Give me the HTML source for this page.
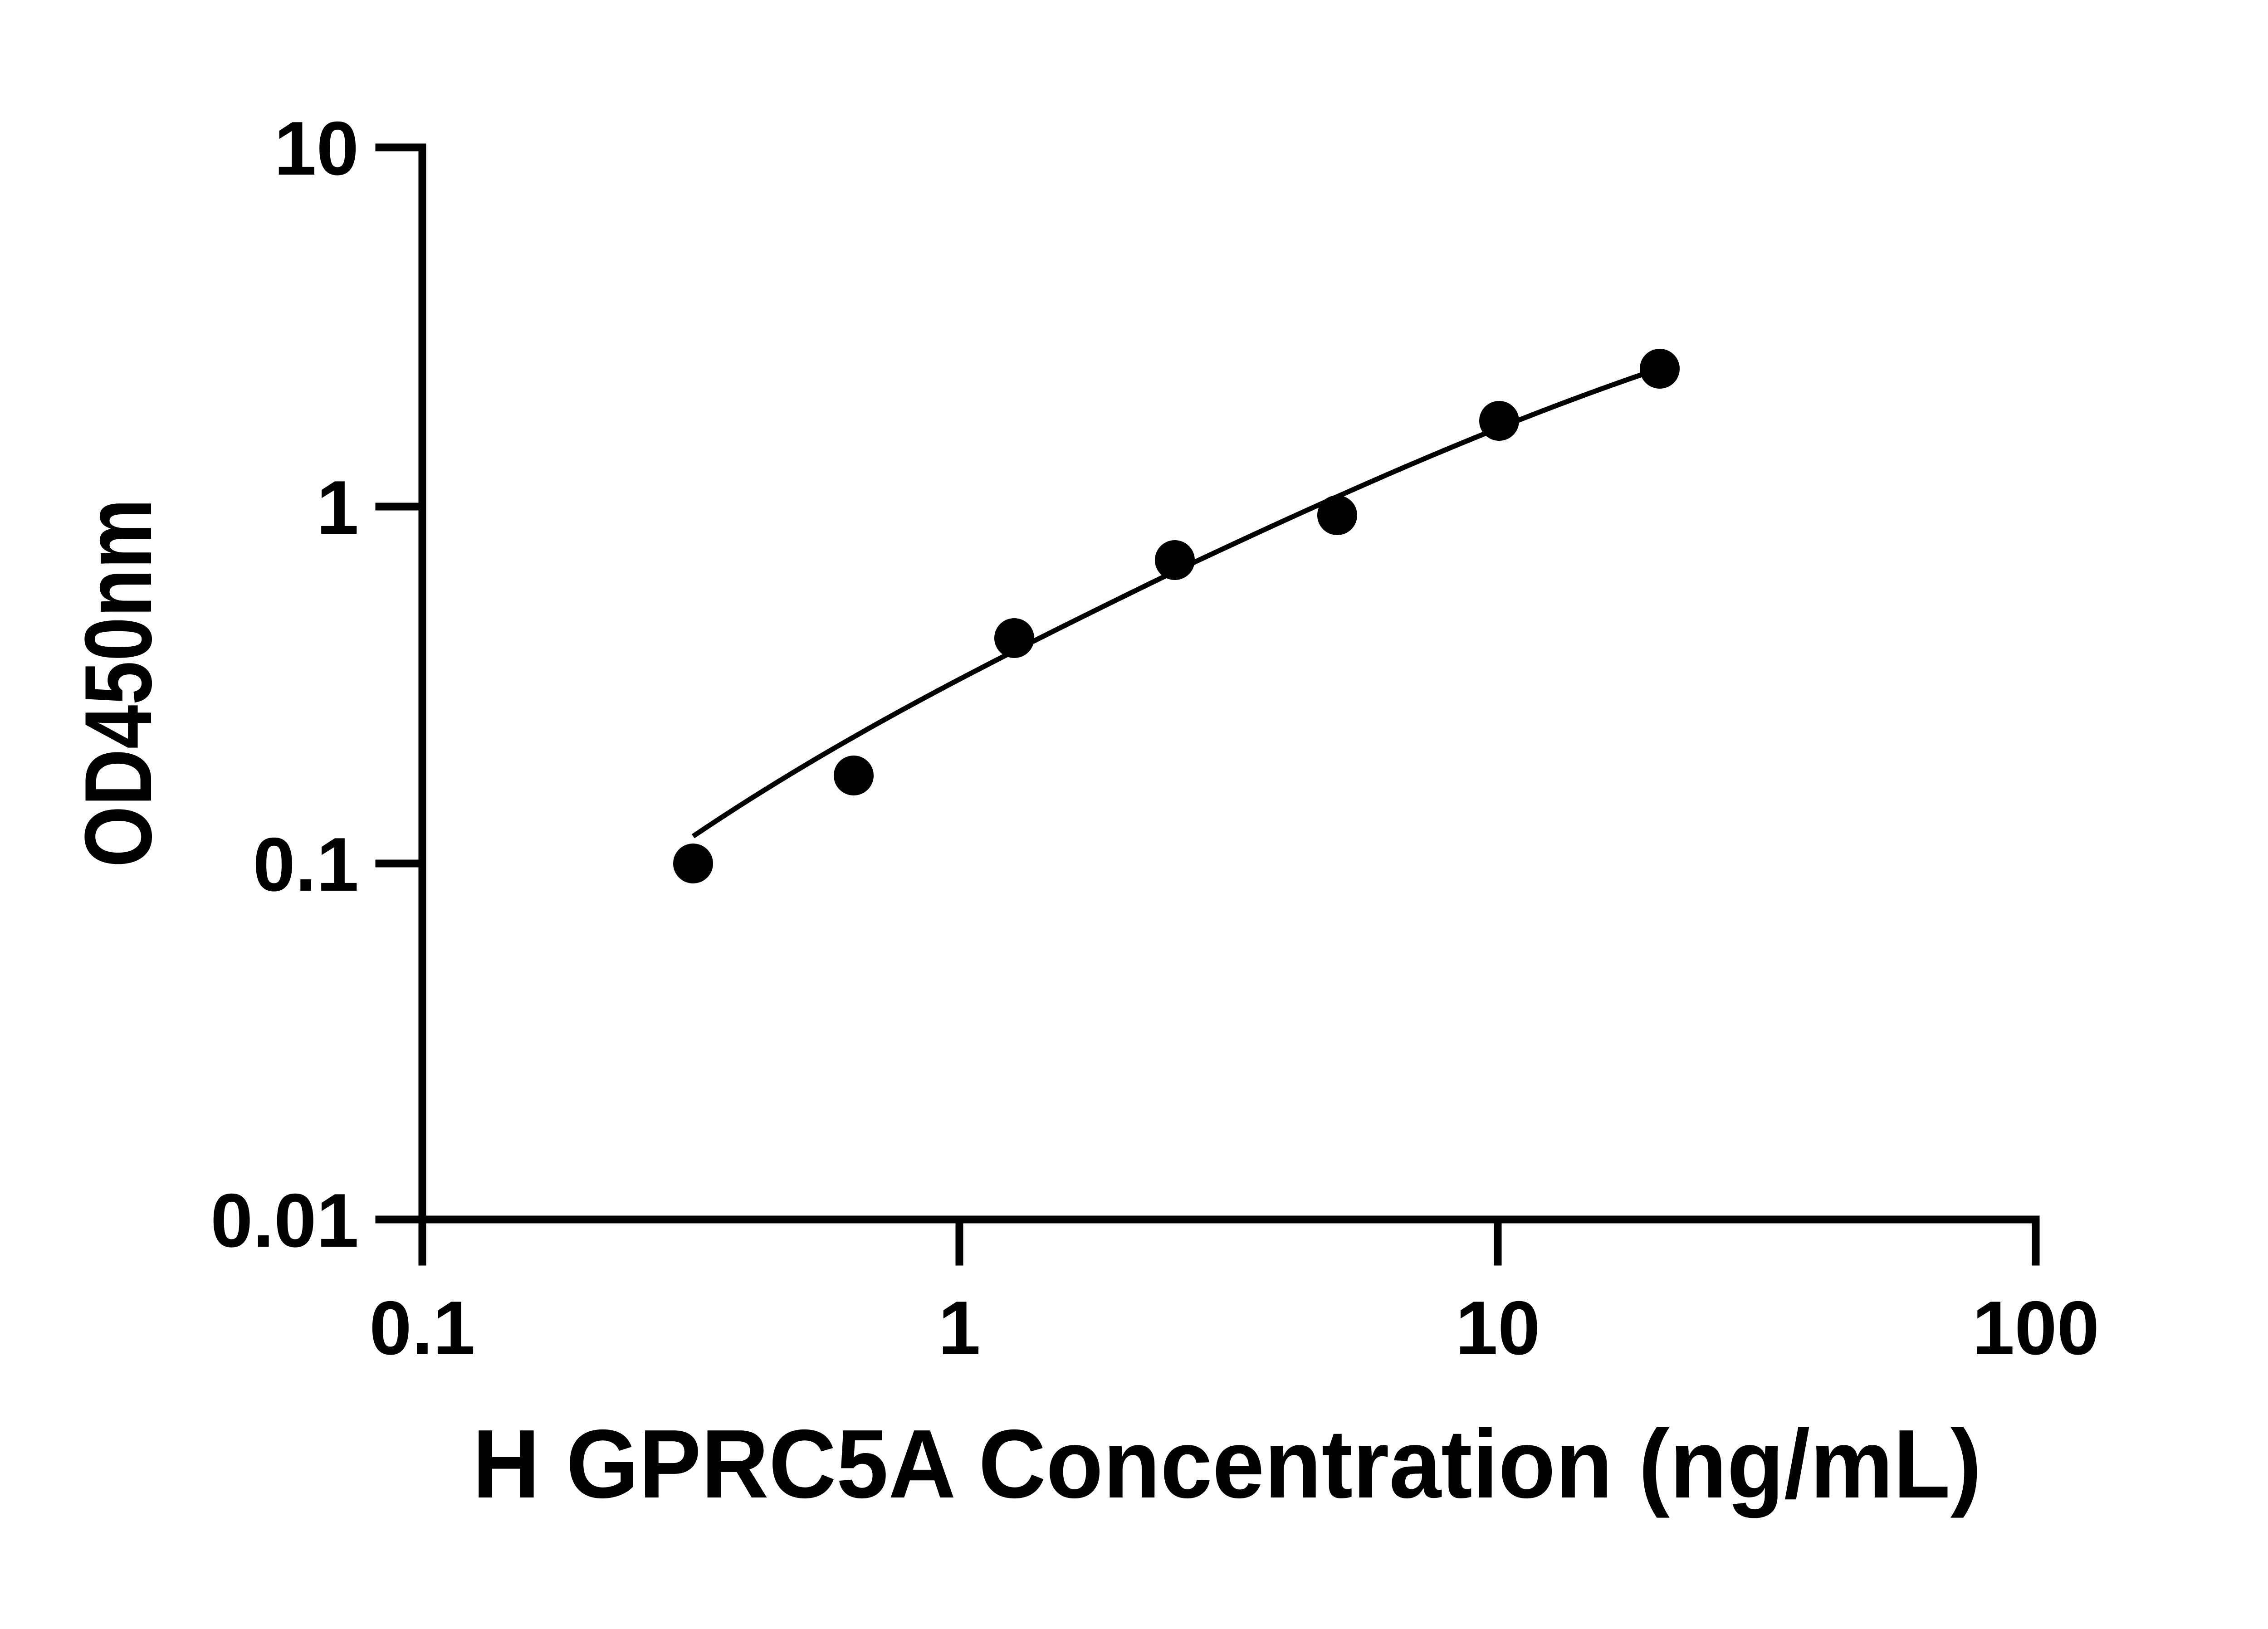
<!DOCTYPE html>
<html><head><meta charset="utf-8"><style>html,body{margin:0;padding:0;background:#fff}</style></head>
<body>
<svg width="5075" height="3587" viewBox="0 0 5075 3587" xmlns="http://www.w3.org/2000/svg" font-family="Liberation Sans, DejaVu Sans, sans-serif" font-weight="bold">
<rect width="5075" height="3587" fill="#fff"/>
<g stroke="#000" stroke-width="17" fill="none" stroke-linecap="square">
<polyline points="931,325 931,2689 4488,2689"/>
<line x1="836" y1="325" x2="931" y2="325"/>
<line x1="836" y1="1117" x2="931" y2="1117"/>
<line x1="836" y1="1904" x2="931" y2="1904"/>
<line x1="836" y1="2689" x2="931" y2="2689"/>
<line x1="931" y1="2689" x2="931" y2="2782"/>
<line x1="2115" y1="2689" x2="2115" y2="2782"/>
<line x1="3302" y1="2689" x2="3302" y2="2782"/>
<line x1="4488" y1="2689" x2="4488" y2="2782"/>
</g>
<path d="M1528,1844 C1860,1620 2200,1450 2590,1260 C2960,1085 3300,935 3637,820" stroke="#000" stroke-width="11" fill="none"/>
<g fill="#000">
<circle cx="1528" cy="1904" r="44"/>
<circle cx="1882" cy="1710" r="44"/>
<circle cx="2236" cy="1407" r="44"/>
<circle cx="2590" cy="1235" r="44"/>
<circle cx="2948" cy="1136" r="44"/>
<circle cx="3305" cy="928" r="44"/>
<circle cx="3659" cy="813" r="44"/>
</g>
<g font-size="168" text-anchor="end" fill="#000">
<text x="791" y="385">10</text>
<text x="791" y="1177">1</text>
<text x="791" y="1964">0.1</text>
<text x="791" y="2749">0.01</text>
</g>
<g font-size="168" text-anchor="middle" fill="#000">
<text x="931" y="2986">0.1</text>
<text x="2115" y="2986">1</text>
<text x="3302" y="2986">10</text>
<text x="4488" y="2986">100</text>
</g>
<text x="2705" y="3302" font-size="215" text-anchor="middle" textLength="3327" lengthAdjust="spacingAndGlyphs">H GPRC5A Concentration (ng/mL)</text>
<text transform="translate(333,1506) rotate(-90)" font-size="210" text-anchor="middle" textLength="813" lengthAdjust="spacingAndGlyphs">OD450nm</text>
</svg>
</body></html>
